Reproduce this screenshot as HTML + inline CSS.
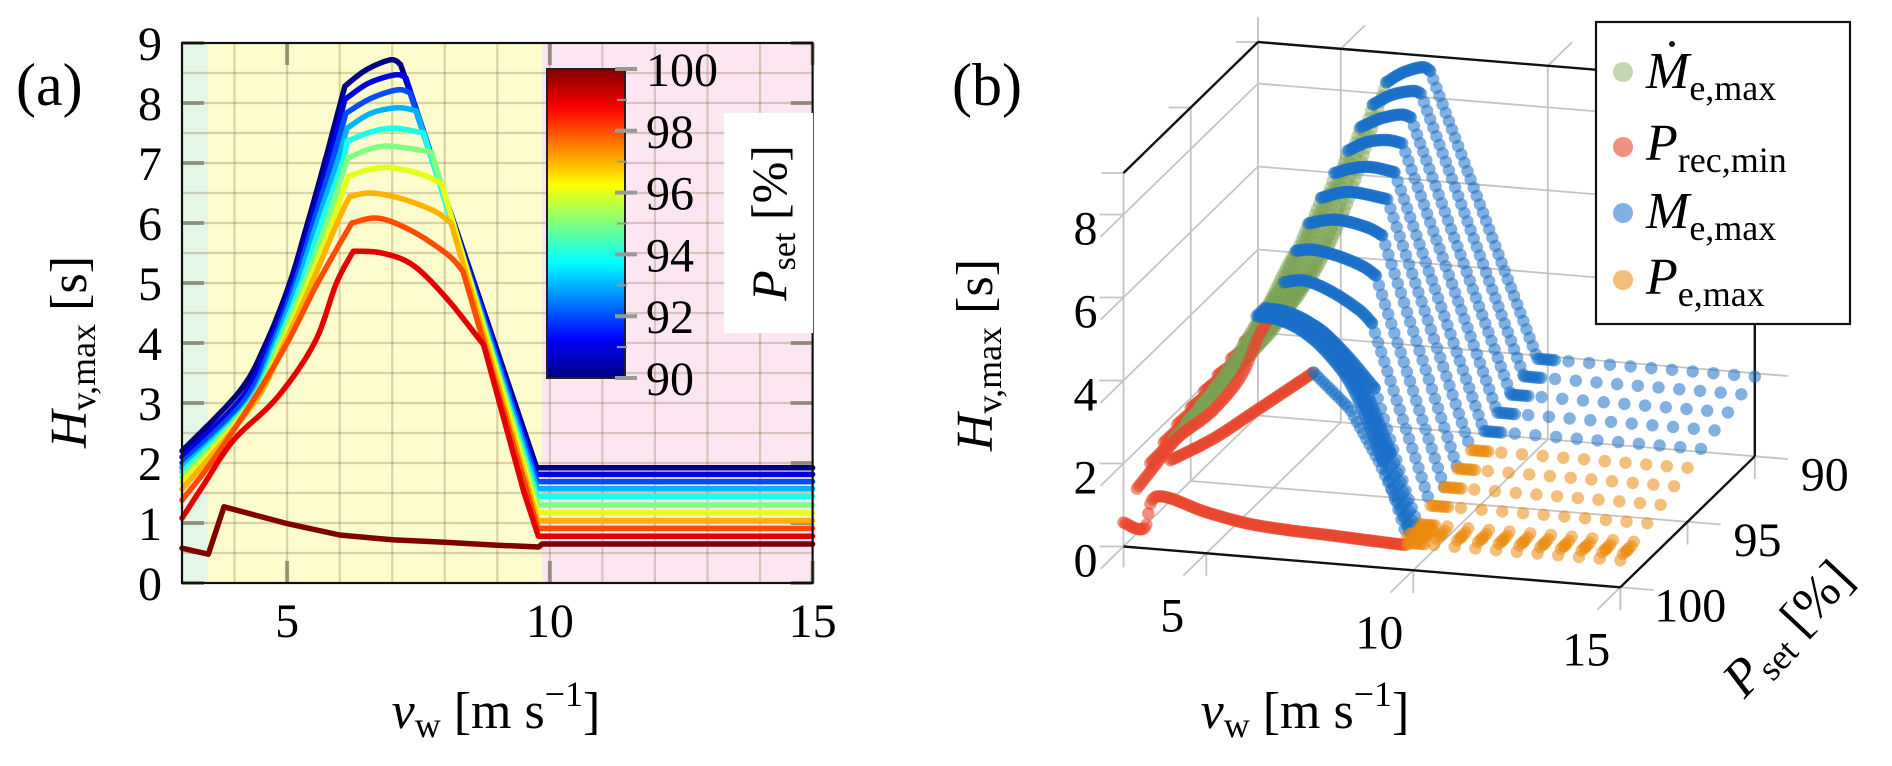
<!DOCTYPE html>
<html><head><meta charset="utf-8"><style>
html,body{margin:0;padding:0;background:#fff;}
svg{display:block;font-family:"Liberation Serif",serif;}
</style></head><body>
<svg id="fig" width="1892" height="766" viewBox="0 0 1892 766" xmlns="http://www.w3.org/2000/svg">
<g id="pa"></g>
<g id="pb"></g>
</svg>
<script>
// ---------- DATA (panel a) ----------
const psetValues = [90,91,92,93,94,95,96,97,98,99,100];
const curve90 = [[3,2.2],[4.1,3.2],[4.6,4],[5.05,5],[5.39,6],[5.71,7],[6.1,8.28],[6.5,8.55],[6.97,8.72],[7.16,8.64],[9.75,1.92],[15,1.92]];
const curve91 = [[3,2.1],[4.15,3.1],[4.66,4],[5.1,5],[5.45,6],[5.78,7],[6.1,8.06],[6.55,8.33],[7.06,8.47],[7.26,8.42],[9.75,1.81],[15,1.81]];
const curve92 = [[3,2.0],[4.2,3.05],[4.72,4],[5.15,5],[5.5,6],[5.85,7],[6.12,7.83],[6.6,8.08],[7.1,8.22],[7.34,8.17],[9.76,1.69],[15,1.69]];
const curve93 = [[3,1.92],[4.25,3],[4.77,4],[5.2,5],[5.57,6],[5.95,7],[6.14,7.58],[6.6,7.83],[7.1,7.92],[7.46,7.87],[9.76,1.57],[15,1.57]];
const curve94 = [[3,1.85],[4.28,3],[4.82,4],[5.27,5],[5.65,6],[6.05,7],[6.14,7.36],[6.6,7.52],[7.05,7.58],[7.6,7.5],[9.76,1.44],[15,1.44]];
const curve95 = [[3,1.76],[4.3,3],[4.86,4],[5.33,5],[5.75,6],[6.15,7.08],[6.6,7.24],[7.0,7.28],[7.75,7.18],[9.77,1.3],[15,1.3]];
const curve96 = [[3,1.68],[4.33,3],[4.9,4],[5.4,5],[5.85,6],[6.17,6.78],[6.6,6.9],[7.0,6.92],[7.6,6.8],[7.95,6.64],[9.77,1.17],[15,1.17]];
const curve97 = [[3,1.56],[4.37,3],[4.95,4],[5.47,5],[5.95,6],[6.19,6.44],[6.6,6.5],[7.2,6.4],[7.8,6.2],[8.12,6.0],[9.77,1.04],[15,1.04]];
const curve98 = [[3,1.38],[3.55,2],[4.32,3],[5.0,4],[5.58,5],[6.23,6.0],[6.74,6.08],[7.39,5.86],[8.06,5.47],[8.35,5.19],[9.77,0.91],[15,0.91]];
const curve99 = [[3,1.08],[3.4,1.62],[3.98,2.38],[4.8,3.08],[5.52,4],[5.94,5],[6.26,5.53],[6.8,5.5],[7.39,5.3],[8.03,4.75],[8.74,3.97],[9.5,1.53],[9.78,0.78],[15,0.78]];
const curve100 = [[3,0.58],[3.5,0.48],[3.8,1.27],[5,0.99],[6,0.8],[7,0.72],[8,0.68],[9,0.63],[9.79,0.6],[9.85,0.65],[15,0.65]];
const curves = [curve90,curve91,curve92,curve93,curve94,curve95,curve96,curve97,curve98,curve99,curve100];
const kinkIdx   = [6,6,6,6,6,5,5,5,5,6,9];
const cornerIdx = [9,9,9,9,9,8,9,9,9,10,9];
const flatIdx   = [10,10,10,10,10,9,10,10,10,12,9];
const xTicksA = [5,10,15];
const yTicksA = [0,1,2,3,4,5,6,7,8,9];
const cbTicks = [90,92,94,96,98,100];
// extra rows for panel b
const extraPset = 99.5;
const curveExtra = [[3.97,2.0],[5.0,2.6],[5.98,3.32],[7.43,4.4],[8.3,3.6],[9.0,2.4],[9.78,0.72],[15,0.72]];
const extraKink = 3, extraCorner = 3, extraFlat = 6;
const finePset = [99.2,99.4,99.6,99.8];
const fineArc = [[6.15,5.75],[6.7,5.7],[7.3,5.45],[7.9,4.95],[8.5,4.15],[9.2,2.5],[9.78,0.74],[15,0.74]];
const hTicksB = [0,2,4,6,8];
const vTicksB = [5,10,15];
const pTicksB = [90,95,100];

const NS = "http://www.w3.org/2000/svg";
function mk(parent, tag, attrs, txt){const e=document.createElementNS(NS,tag);for(const k in attrs)e.setAttribute(k,attrs[k]);if(txt!==undefined)e.textContent=txt;parent.appendChild(e);return e;}
function jet(t){
  const f=(x)=>Math.max(0,Math.min(1,x));
  const r=f(Math.min(4*t-1.5,-4*t+4.5)), g=f(Math.min(4*t-0.5,-4*t+3.5)), b=f(Math.min(4*t+0.5,-4*t+2.5));
  return `rgb(${Math.round(r*255)},${Math.round(g*255)},${Math.round(b*255)})`;
}
// smooth rendering helper: Catmull-Rom within [i0..i1]
function smoothSeg(k,i0,i1){
  const out=[];
  for(let i=i0;i<i1;i++){
    const p0=k[Math.max(i-1,i0)],p1=k[i],p2=k[i+1],p3=k[Math.min(i+2,i1)];
    for(let s=0;s<12;s++){const t=s/12,t2=t*t,t3=t2*t;
      const f=(a,b,c,d)=>0.5*((2*b)+(-a+c)*t+(2*a-5*b+4*c-d)*t2+(-a+3*b-3*c+d)*t3);
      out.push([f(p0[0],p1[0],p2[0],p3[0]),f(p0[1],p1[1],p2[1],p3[1])]);}
  }
  out.push(k[i1]);return out;
}
function smoothCurve(k,ki,ci){
  let pts=smoothSeg(k,0,ki);
  pts=pts.concat(smoothSeg(k,ki,ci).slice(1));
  for(let i=ci+1;i<k.length;i++)pts.push(k[i]);
  return pts;
}
// ---------- PANEL A ----------
const pa = document.getElementById('pa');
const xa = v => 182 + (v-3)*52.55;
const ya = h => 583 - h*60;
let e;
e=mk(pa,'rect',{x:xa(3),y:ya(9),width:xa(3.5)-xa(3),height:ya(0)-ya(9),fill:'#e4f6e6'});


e=mk(pa,'rect',{x:xa(3.5),y:ya(9),width:xa(9.85)-xa(3.5),height:ya(0)-ya(9),fill:'#fdfccc'});


e=mk(pa,'rect',{x:xa(9.85),y:ya(9),width:xa(15)-xa(9.85),height:ya(0)-ya(9),fill:'#fce6f1'});


const grid = mk(pa,'g',{stroke:'rgba(110,90,40,0.25)','stroke-width':2.2});


for(let v=4; v<15; v+=1){mk(grid,'line',{x1:xa(v),x2:xa(v),y1:ya(0),y2:ya(9)});}
for(let h=0.5; h<9; h+=0.5){mk(grid,'line',{x1:xa(3),x2:xa(15),y1:ya(h),y2:ya(h)});}
const tk = mk(pa,'g',{stroke:'rgba(100,100,80,0.6)','stroke-width':4});


yTicksA.forEach(h=>{mk(tk,'line',{x1:xa(3),x2:xa(3)+22,y1:ya(h),y2:ya(h)});mk(tk,'line',{x1:xa(15),x2:xa(15)-22,y1:ya(h),y2:ya(h)});});
xTicksA.forEach(v=>{mk(tk,'line',{x1:xa(v),x2:xa(v),y1:ya(0),y2:ya(0)-22});mk(tk,'line',{x1:xa(v),x2:xa(v),y1:ya(9),y2:ya(9)+22});});
curves.forEach((c,i)=>{
  const pts = psetValues[i]===100 ? c : smoothCurve(c,kinkIdx[i],cornerIdx[i]);
  const p = mk(pa,'polyline',{points:pts.map(d=>xa(d[0]).toFixed(1)+','+ya(d[1]).toFixed(1)).join(' '),fill:'none',stroke:jet((psetValues[i]-90)/10),'stroke-width':5.5,'stroke-linejoin':'round','stroke-linecap':'round'});
  
  
});
e=mk(pa,'rect',{x:xa(3),y:ya(9),width:xa(15)-xa(3),height:ya(0)-ya(9),fill:'none',stroke:'#111','stroke-width':2.2});


xTicksA.forEach(v=>{const t=mk(pa,'text',{x:xa(v),y:637,'font-size':48,'text-anchor':'middle'},String(v));
 
 });
yTicksA.forEach(h=>{const t=mk(pa,'text',{x:162,y:ya(h)+17,'font-size':48,'text-anchor':'end'},String(h));
 
 });
const defs = mk(document.getElementById('fig'),'defs',{});
const lg = mk(defs,'linearGradient',{id:'jetg',x1:0,y1:1,x2:0,y2:0});
[0,0.125,0.375,0.625,0.875,1].forEach(s=>mk(lg,'stop',{offset:s,'stop-color':jet(s)}));
const cbx=547, cbw=78, cbTop=69, cbBot=378;
const cby = p => cbBot - (p-90)/10*(cbBot-cbTop);
e=mk(pa,'rect',{x:cbx,y:cbTop,width:cbw,height:cbBot-cbTop,fill:'url(#jetg)',stroke:'#222','stroke-width':2});


for(let p=90;p<=100;p+=1){const maj=(p%2===0);mk(pa,'line',{x1:cbx+cbw-(maj?10:8),x2:cbx+cbw+(maj?12:2),y1:cby(p),y2:cby(p),stroke:'#999','stroke-width':maj?4:2});}
cbTicks.forEach(p=>{const t=mk(pa,'text',{x:646,y:cby(p)+17,'font-size':48},String(p));
 
 });
e=mk(pa,'rect',{x:724,y:113,width:89,height:220,fill:'#fff'});


pa.insertAdjacentHTML('beforeend',
`<text transform="translate(786,223) rotate(-90)" text-anchor="middle" font-size="50"><tspan font-style="italic">P</tspan><tspan font-size="34" dy="9">set</tspan><tspan dy="-9"> [%]</tspan></text>
<text x="16" y="105" font-size="60">(a)</text>
<text transform="translate(86,352) rotate(-90)" text-anchor="middle" font-size="52"><tspan font-style="italic">H</tspan><tspan font-size="36" dy="9">v,max</tspan><tspan dy="-9">  [s]</tspan></text>
<text x="496" y="728" text-anchor="middle" font-size="52"><tspan font-style="italic">v</tspan><tspan font-size="36" dy="9">w</tspan><tspan dy="-9">  [m s</tspan><tspan font-size="36" dy="-22">−1</tspan><tspan dy="22">]</tspan></text>`);

// ---------- PANEL B ----------
const pb=document.getElementById('pb');
const O=[1123.5,546.5];
function proj(v,P,H){return [O[0]+(v-3)*41.4+(100-P)*13.45, O[1]+(v-3)*3.4-(100-P)*13.1-H*41.5];}
function line(g,a,b,attrs){const p=proj(...a),q=proj(...b);return mk(g,'line',Object.assign({x1:p[0],y1:p[1],x2:q[0],y2:q[1]},attrs));}
const gg=mk(pb,'g',{stroke:'#c4c4c4','stroke-width':1.8,fill:'none'});


hTicksB.forEach(h=>{line(gg,[3,90,h],[15.8,90,h],{});line(gg,[3,101.7,h],[3,90,h],{});});
vTicksB.forEach(v=>{line(gg,[v,90,0],[v,90,9],{});line(gg,[v,101.7,0],[v,90,0],{});});
line(gg,[3,90,0],[3,90,9.6],{});
[95,100].forEach(P=>{line(gg,[3,P,0],[3,P,9],{});line(gg,[3,P,0],[15.8,P,0],{});});
line(gg,[3,100,0],[3,100,-0.5],{});
vTicksB.forEach(v=>line(gg,[v,100,0],[v,100,-0.55],{}));
pTicksB.forEach(P=>line(gg,[15,P,0],[15,P,-0.55],{}));
hTicksB.forEach(h=>{const p=proj(3,100,h);mk(gg,'line',{x1:p[0]-24,y1:p[1],x2:p[0],y2:p[1]});});
[[3,100,9],[3,90,9],[3,95,9]].forEach(a=>{const p=proj(...a);mk(gg,'line',{x1:p[0]-22,y1:p[1],x2:p[0],y2:p[1]});});
line(gg,[5,90,9],[5,88.2,9],{});line(gg,[10,90,9],[10,88.2,9],{});
const bx=mk(pb,'g',{stroke:'#111','stroke-width':2.4});


line(bx,[3,100,9],[3,90,9],{});line(bx,[3,90,9],[15,90,9],{});
line(bx,[3,100,0],[15,100,0],{});line(bx,[15,100,0],[15,90,0],{});line(bx,[15,90,0],[15,90,9],{});

const COL={green:'rgba(125,162,85,0.45)',red:'rgba(232,70,45,0.6)',blue:'rgba(25,112,200,0.55)',orange:'rgba(235,138,15,0.55)'};
function interp(k,v){for(let i=0;i<k.length-1;i++){if(v<=k[i+1][0]+1e-9){const t=(v-k[i][0])/((k[i+1][0]-k[i][0])||1);return k[i][1]+t*(k[i+1][1]-k[i][1]);}}return k[k.length-1][1];}
const dots=mk(pb,'g',{});


function dot(v,P,H,c){const p=proj(v,P,H);mk(dots,'circle',{cx:p[0].toFixed(1),cy:p[1].toFixed(1),r:6.2,fill:COL[c]});}
function row(k,P,ki,ci,fi,riseCol,skipRise){
  const sk = smoothCurve(k,ki,ci);
  const v0=k[0][0], vk=k[ki][0], vc=k[ci][0], vf=k[fi][0];
  if(!skipRise) for(let v=v0; v<vk; v+=0.05){dot(v,P,interp(sk,v),(v<3.5||riseCol==='red')?'red':riseCol);}
  for(let v=vk; v<vc; v+=0.04){dot(v,P,interp(sk,v),'blue');}
  for(let v=vc; v<vf; v+=0.075){dot(v,P,interp(sk,v),P>=100?'red':'blue');}
  const fc = P<=94?'blue':'orange';
  for(let v=vf; v<vf+0.45; v+=0.06){dot(v,P,interp(sk,v),fc);}
  for(let v=10.5; v<=15.01; v+=0.5){dot(v,P,interp(sk,v),fc);}
}
psetValues.forEach((P,i)=>{
  if(P===100){
    finePset.forEach(fp=>row(fineArc,fp,0,5,6,'blue',true));
    row(curveExtra,extraPset,extraKink,extraCorner,extraFlat,'red');
  }
  row(curves[i],P,kinkIdx[i],cornerIdx[i],flatIdx[i],P>=99?'red':'green');
});

let html='';
hTicksB.forEach(h=>{const p=proj(3,100,h);html+=`<text x="${p[0]-38}" y="${p[1]+30}" font-size="48" text-anchor="middle">${h}</text>`;});
vTicksB.forEach(v=>{const p=proj(v,100,0);html+=`<text x="${p[0]-34}" y="${p[1]+78}" font-size="48" text-anchor="middle">${v}</text>`;});
pTicksB.forEach(P=>{const p=proj(15,P,0);html+=`<text x="${p[0]+70}" y="${p[1]+34}" font-size="48" text-anchor="middle">${P}</text>`;});
html+=`<text x="952" y="105" font-size="60">(b)</text>
<text transform="translate(992,355) rotate(-90)" text-anchor="middle" font-size="52"><tspan font-style="italic">H</tspan><tspan font-size="36" dy="9">v,max</tspan><tspan dy="-9">  [s]</tspan></text>
<text x="1305" y="728" text-anchor="middle" font-size="52"><tspan font-style="italic">v</tspan><tspan font-size="36" dy="9">w</tspan><tspan dy="-9">  [m s</tspan><tspan font-size="36" dy="-22">−1</tspan><tspan dy="22">]</tspan></text>
<text transform="translate(1800,640) rotate(-47)" text-anchor="middle" font-size="52"><tspan font-style="italic">P</tspan><tspan font-size="36" dy="9">set</tspan><tspan dy="-9">  [%]</tspan></text>
<g>
<rect x="1596" y="22" width="254" height="302" fill="#fff" stroke="#111" stroke-width="2.2"/>
<circle cx="1623" cy="72" r="10" fill="rgba(125,162,85,0.45)"/>
<circle cx="1623" cy="147" r="10" fill="rgba(232,70,45,0.6)"/>
<circle cx="1623" cy="213" r="10" fill="rgba(25,112,200,0.55)"/>
<circle cx="1623" cy="280" r="10" fill="rgba(235,138,15,0.55)"/>
<text x="1646" y="88" font-size="52"><tspan font-style="italic">M</tspan><tspan font-size="36" dy="12">e,max</tspan></text>
<circle cx="1672" cy="44" r="3" fill="#111"/>
<text x="1646" y="160" font-size="52"><tspan font-style="italic">P</tspan><tspan font-size="36" dy="12">rec,min</tspan></text>
<text x="1646" y="228" font-size="52"><tspan font-style="italic">M</tspan><tspan font-size="36" dy="12">e,max</tspan></text>
<text x="1646" y="294" font-size="52"><tspan font-style="italic">P</tspan><tspan font-size="36" dy="12">e,max</tspan></text>
</g>`;
pb.insertAdjacentHTML('beforeend',html);
</script>
</body></html>
